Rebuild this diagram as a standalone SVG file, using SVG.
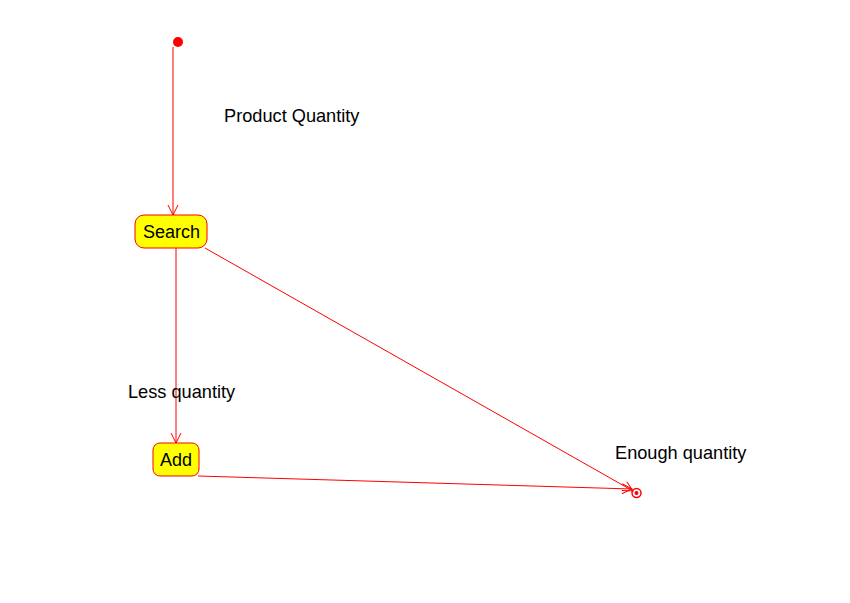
<svg xmlns="http://www.w3.org/2000/svg" width="850" height="603" viewBox="0 0 850 603">
<style>
.edge{stroke:#ff0000;stroke-width:1;fill:none}
.state{fill:#ffff00;stroke:#ff0000;stroke-width:1}
.lbl{font-family:"Liberation Sans",Arial,sans-serif;font-size:18.2px;fill:#000}
.slbl{font-family:"Liberation Sans",Arial,sans-serif;font-size:18px;fill:#000;text-anchor:middle}
</style>
<defs>
<marker id="arr" markerWidth="12" markerHeight="12" refX="11" refY="6" orient="auto" markerUnits="userSpaceOnUse">
<path d="M1,1 L11,6 L1,11" fill="none" stroke="#ff0000" stroke-width="1"/>
</marker>
</defs>
<rect width="850" height="603" fill="#fff"/>
<g id="connectors">
<line class="edge" x1="173" y1="47" x2="173" y2="215" marker-end="url(#arr)"/>
<line class="edge" x1="176" y1="248" x2="176" y2="443" marker-end="url(#arr)"/>
<line class="edge" x1="205" y1="248" x2="633" y2="491" marker-end="url(#arr)"/>
<line class="edge" x1="198" y1="476" x2="632" y2="489" marker-end="url(#arr)"/>
</g>
<g id="start">
<circle cx="178" cy="42" r="5" fill="#ff0000"/>
</g>
<g id="search">
<rect class="state" x="135" y="215" width="72" height="33" rx="9"/>
<text class="slbl" x="171.5" y="238">Search</text>
</g>
<g id="add">
<rect class="state" x="153" y="443" width="46" height="33" rx="7"/>
<text class="slbl" x="176" y="466">Add</text>
</g>
<g id="end">
<circle cx="636.5" cy="493" r="4.5" fill="none" stroke="#ff0000" stroke-width="1.5"/>
<circle cx="636.5" cy="493" r="2" fill="#ff0000"/>
</g>
<g id="labels">
<text class="lbl" x="224" y="122">Product Quantity</text>
<text class="lbl" x="128" y="398">Less quantity</text>
<text class="lbl" x="615" y="459">Enough quantity</text>
</g>
</svg>
